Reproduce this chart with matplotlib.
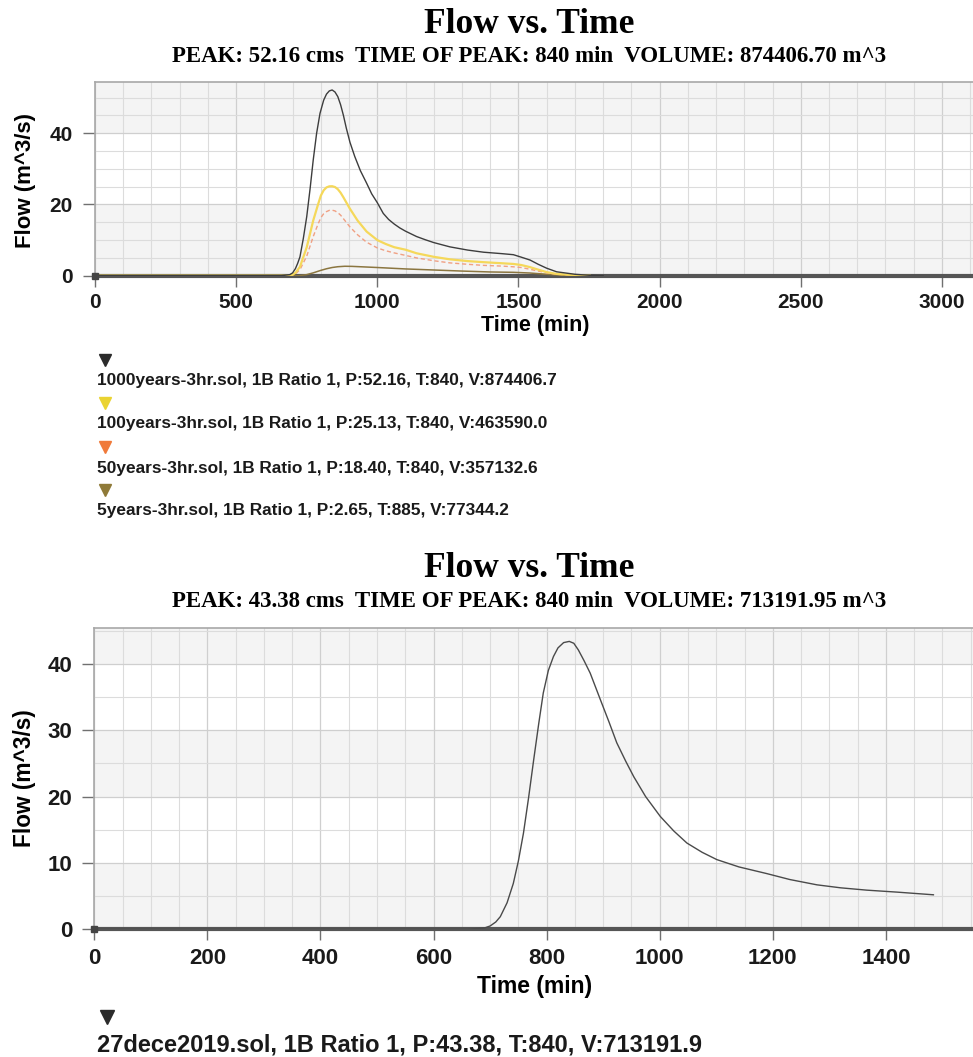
import matplotlib
matplotlib.use("Agg")
import matplotlib.pyplot as plt
from matplotlib.lines import Line2D
from matplotlib.ticker import MultipleLocator

# ---------------- data ----------------
# upper chart: design-storm hydrographs (time in min, flow in m^3/s)
t_1000 = [0, 660, 690, 700, 710, 718, 726, 738, 750, 762, 773, 785, 797, 810, 820, 830,
          840, 850, 860, 870, 880, 890, 903, 920, 940, 962, 980, 1000, 1021, 1040, 1060,
          1080, 1100, 1139, 1170, 1200, 1257, 1320, 1376, 1440, 1482, 1510, 1541, 1570,
          1600, 1635, 1700, 1753, 1800]
q_1000 = [0, 0, 0.3, 0.8, 2.0, 3.5, 5.3, 10.5, 16.6, 24.5, 32.5, 40.0, 45.6, 49.3, 51.0, 51.9,
          52.16, 51.6, 50.3, 48.0, 45.0, 41.5, 37.5, 33.5, 29.5, 26.0, 23.0, 20.5, 17.5, 15.8, 14.5,
          13.4, 12.5, 11.0, 10.1, 9.3, 8.1, 7.2, 6.6, 6.2, 5.9, 5.2, 4.4, 3.2,
          2.1, 1.1, 0.4, 0.1, 0]

t_100 = [0, 690, 700, 710, 726, 750, 773, 790, 800, 810, 820, 830, 840, 850, 860, 870,
         880, 890, 903, 930, 962, 1000, 1030, 1060, 1100, 1139, 1200, 1257, 1320, 1376,
         1440, 1482, 1510, 1541, 1570, 1600, 1635, 1700, 1753]
q_100 = [0, 0, 0.3, 0.8, 2.5, 8.0, 15.5, 20.0, 22.5, 24.0, 24.8, 25.1, 25.13, 24.9, 24.3, 23.3,
         22.0, 20.6, 18.8, 15.5, 12.4, 10.0, 8.9, 8.0, 7.3, 6.3, 5.3, 4.6, 4.1, 3.8,
         3.5, 3.3, 3.0, 2.4, 1.7, 1.0, 0.5, 0.15, 0]

t_50 = [0, 690, 700, 710, 726, 750, 773, 790, 800, 810, 820, 830, 840, 850, 860, 870,
        880, 890, 903, 930, 962, 1000, 1030, 1060, 1100, 1139, 1200, 1257, 1320, 1376,
        1440, 1482, 1510, 1541, 1570, 1600, 1635, 1700, 1753]
q_50 = [0, 0, 0.2, 0.5, 1.7, 5.5, 11.0, 14.5, 16.3, 17.4, 18.0, 18.35, 18.40, 18.2, 17.7, 17.0,
        16.0, 15.0, 13.7, 11.5, 9.4, 7.8, 7.0, 6.4, 5.7, 5.0, 4.2, 3.6, 3.2, 2.9,
        2.7, 2.5, 2.3, 1.8, 1.3, 0.8, 0.4, 0.1, 0]

t_5 = [0, 720, 750, 773, 800, 820, 840, 860, 885, 910, 930, 1000, 1100, 1200, 1300, 1400,
       1482, 1541, 1600, 1650, 1700, 1753]
q_5 = [0, 0, 0.3, 0.8, 1.5, 1.95, 2.3, 2.52, 2.65, 2.62, 2.55, 2.3, 1.9, 1.6, 1.3, 1.05,
       0.95, 0.75, 0.4, 0.15, 0.05, 0]

top_labels = [
    "1000years-3hr.sol, 1B Ratio 1, P:52.16, T:840, V:874406.7",
    "100years-3hr.sol, 1B Ratio 1, P:25.13, T:840, V:463590.0",
    "50years-3hr.sol, 1B Ratio 1, P:18.40, T:840, V:357132.6",
    "5years-3hr.sol, 1B Ratio 1, P:2.65, T:885, V:77344.2",
]
top_subtitle = "PEAK: 52.16 cms  TIME OF PEAK: 840 min  VOLUME: 874406.70 m^3"

# lower chart: observed event
t_obs = [0, 660, 690, 700, 710, 718, 730, 741, 750, 759, 768, 777, 786, 794, 803, 812,
         820, 830, 840, 848, 856, 866, 877, 886, 895, 910, 924, 940, 954, 975, 1001,
         1025, 1048, 1075, 1101, 1140, 1189, 1230, 1278, 1320, 1366, 1420, 1484]
q_obs = [0, 0, 0.2, 0.5, 1.1, 1.9, 4.0, 6.9, 10.3, 14.5, 19.8, 25.5, 31.0, 35.6, 39.0, 41.1,
         42.4, 43.2, 43.38, 43.1, 42.1, 40.5, 38.6, 36.6, 34.6, 31.3, 28.1, 25.3, 23.0, 20.0, 17.0,
         14.8, 13.0, 11.6, 10.5, 9.4, 8.4, 7.5, 6.7, 6.25, 5.9, 5.6, 5.2]
bottom_label = "27dece2019.sol, 1B Ratio 1, P:43.38, T:840, V:713191.9"
bottom_subtitle = "PEAK: 43.38 cms  TIME OF PEAK: 840 min  VOLUME: 713191.95 m^3"

# ---------------- figure ----------------
W, H = 973, 1057
fig = plt.figure(figsize=(W / 100, H / 100), dpi=100)
fig.patch.set_facecolor("white")

SANS = "Liberation Sans"
SERIF = "Liberation Serif"


def fx(px):
    return px / W


def fy(py):
    return 1 - py / H


def add_axes(left, top, bottom, right=W):
    return fig.add_axes([fx(left), fy(bottom), fx(right - left), (bottom - top) / H])


def style_axes(ax, xlim, ylim, xmajor, xminor, ymajor, yminor, fs, xpad):
    ax.set_xlim(*xlim)
    ax.set_ylim(*ylim)
    ax.set_facecolor("white")
    # alternating background bands between major y ticks
    y0 = 0.0
    k = 0
    while y0 < ylim[1]:
        if k % 2 == 0:
            ax.axhspan(y0, min(y0 + ymajor, ylim[1]), color="#f4f4f4", lw=0, zorder=0)
        y0 += ymajor
        k += 1
    ax.xaxis.set_major_locator(MultipleLocator(xmajor))
    ax.xaxis.set_minor_locator(MultipleLocator(xminor))
    ax.yaxis.set_major_locator(MultipleLocator(ymajor))
    ax.yaxis.set_minor_locator(MultipleLocator(yminor))
    ax.grid(which="minor", color="#dcdcdc", lw=0.8, zorder=1)
    ax.grid(which="major", color="#cfcfcf", lw=0.9, zorder=1)
    ax.set_axisbelow(True)
    for s in ("top", "left"):
        ax.spines[s].set_color("#a8a8a8")
        ax.spines[s].set_linewidth(1.2)
    ax.spines["right"].set_visible(False)
    ax.spines["bottom"].set_color("#555555")
    ax.spines["bottom"].set_linewidth(3.0)
    ax.tick_params(which="minor", length=0)
    ax.tick_params(which="major", axis="y", direction="out", color="#707070",
                   width=1.0, length=9, pad=7, labelsize=fs)
    ax.tick_params(which="major", axis="x", direction="out", color="#707070",
                   width=1.0, length=8, pad=xpad, labelsize=fs)
    for lab in ax.get_xticklabels() + ax.get_yticklabels():
        lab.set_fontfamily(SANS)
        lab.set_fontweight("bold")
        lab.set_color("#1a1a1a")
    # origin marker
    ax.plot([0], [0], marker="s", ms=4.5, color="#444444", clip_on=False, zorder=6)


# ---- upper chart ----
ax1 = add_axes(95, 82, 275.7)
style_axes(ax1, (0, 3110), (0, 54.4), 500, 100, 20, 5, 15, 4.5)
ax1.plot(t_5, q_5, color="#8b7640", lw=1.1, zorder=3)
ax1.plot(t_50, q_50, color="#f0a083", lw=1.0, ls=(0, (3, 2)), zorder=3)
ax1.plot(t_100, q_100, color="#f5d85a", lw=1.6, zorder=3)
ax1.plot(t_1000, q_1000, color="#3d3d3d", lw=1.0, zorder=4)

fig.text(fx(529), fy(33), "Flow vs. Time", ha="center", va="baseline",
         fontsize=25.5, fontweight="bold", family=SERIF)
fig.text(fx(529), fy(62), top_subtitle, ha="center", va="baseline",
         fontsize=16.5, fontweight="bold", family=SERIF)
fig.text(fx(535), fy(326), "Time (min)", ha="center", va="center",
         fontsize=15.5, fontweight="bold", family=SANS)
fig.text(fx(25), fy(180), "Flow (m^3/s)", ha="center", va="center", rotation=90,
         fontsize=16, fontweight="bold", family=SANS)

marker_colors = ["#2b2b2b", "#ead332", "#f07a3a", "#8f7a38"]
tri_y = [360, 403, 447, 490]
for lab, col, ty in zip(top_labels, marker_colors, tri_y):
    fig.add_artist(Line2D([fx(105)], [fy(ty)], transform=fig.transFigure, marker="v",
                          ms=8, color=col, mec=col, ls="none"))
    fig.text(fx(97), fy(ty + 21), lab, ha="left", va="center",
             fontsize=12.4, fontweight="bold", family=SANS, color="#1a1a1a")

# ---- lower chart ----
ax2 = add_axes(94.3, 628, 929.3)
style_axes(ax2, (0, 1554), (0, 45.4), 200, 50, 10, 5, 16, 5.5)
ax2.plot(t_obs, q_obs, color="#4a4a4a", lw=1.0, zorder=4)

fig.text(fx(529), fy(577), "Flow vs. Time", ha="center", va="baseline",
         fontsize=25.5, fontweight="bold", family=SERIF)
fig.text(fx(529), fy(607), bottom_subtitle, ha="center", va="baseline",
         fontsize=16.5, fontweight="bold", family=SERIF)
fig.text(fx(535), fy(987), "Time (min)", ha="center", va="center",
         fontsize=16.5, fontweight="bold", family=SANS)
fig.text(fx(24), fy(778), "Flow (m^3/s)", ha="center", va="center", rotation=90,
         fontsize=16.3, fontweight="bold", family=SANS)
fig.add_artist(Line2D([fx(107)], [fy(1017)], transform=fig.transFigure, marker="v",
                      ms=10, color="#2b2b2b", mec="#2b2b2b", ls="none"))
fig.text(fx(97), fy(1045), bottom_label, ha="left", va="center",
         fontsize=17, fontweight="bold", family=SANS, color="#1a1a1a")

fig.savefig("out.png", dpi=100)
